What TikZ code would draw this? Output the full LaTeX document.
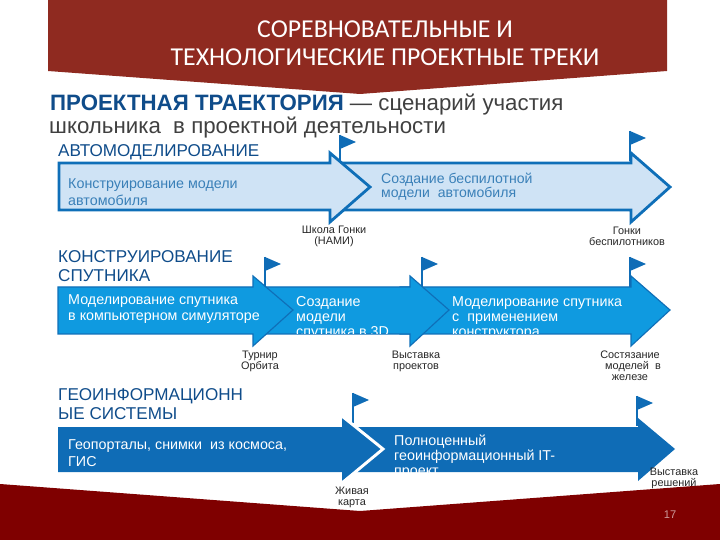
\documentclass[tikz,border=0pt]{standalone}
\usepackage{fontspec}
\setmainfont{Liberation Sans}
\newfontfamily\titlefont{Carlito}
\definecolor{headred}{HTML}{8F2A20}
\definecolor{footred}{HTML}{7F0000}
\definecolor{navy}{HTML}{0F4C8A}
\definecolor{lineblue}{HTML}{0F6FB8}
\definecolor{paleblue}{HTML}{CFE3F5}
\definecolor{palefont}{HTML}{3A80B8}
\definecolor{skyblue}{HTML}{0F9AE0}
\definecolor{deepblue}{HTML}{0F6CB6}
\definecolor{flagblue}{HTML}{0F6CB6}
\tikzset{
    track/.style={anchor=north west,align=left,text=navy,font=\fontsize{14.6}{16.2}\selectfont,inner sep=0pt},
    intro/.style={anchor=west,inner sep=0pt,text=black!75,font=\fontsize{19}{21}\selectfont},
    stage/.style={anchor=north west,align=left,inner sep=0pt},
    event/.style={align=center,inner sep=0pt,text=black!85,font=\fontsize{9.3}{9.2}\selectfont},
}
\begin{document}
\begin{tikzpicture}[x=0.03cm,y=-0.03cm]

    \useasboundingbox (0,0) rectangle (720,540);

    \fill[headred] (48,0) -- (667,0) -- (667,71) -- (360,94) -- (48,71) -- cycle;
    \fill[footred] (0,484) -- (360,511) -- (720,484) -- (720,540) -- (0,540) -- cycle;

    % flags
    \foreach \x/\y in {340/135,630/131,265/257,422/257,630/257,353/393,637/396} {
        \fill[flagblue] (\x,\y) -- (\x+16,\y+7) -- (\x,\y+14) -- cycle;
        \draw[flagblue,line width=1.5pt] (\x,\y) -- (\x,\y+30);
    }

    % first track
    \draw[lineblue,fill=paleblue,line width=2.4pt,line join=miter] (340,163) -- (631,163) -- (631,153) -- (670,187) -- (631,222) -- (631,210) -- (340,210) -- cycle;
    \draw[lineblue,fill=paleblue,line width=2.4pt,line join=miter] (59,163) -- (330,163) -- (330,153) -- (370,187) -- (330,222) -- (330,210) -- (59,210) -- cycle;

    % second track
    \draw[lineblue,fill=skyblue,line width=1pt] (400,287) -- (631,287) -- (631,276) -- (670,310) -- (631,346) -- (631,334) -- (400,334) -- cycle;
    \draw[lineblue,fill=skyblue,line width=1pt] (265,287) -- (410,287) -- (410,276) -- (449,310) -- (410,346) -- (410,334) -- (265,334) -- cycle;
    \draw[lineblue,fill=skyblue,line width=1pt] (58,287) -- (253,287) -- (253,276) -- (293,310) -- (253,346) -- (253,334) -- (58,334) -- cycle;

    % third track
    \fill[deepblue] (345,427) -- (638,427) -- (638,418) -- (675,449) -- (638,481) -- (638,472) -- (345,472) -- cycle;
    \fill[deepblue] (58,427) -- (342,427) -- (342,418) -- (383,449) -- (342,481) -- (342,472) -- (58,472) -- cycle;
    \draw[white,line width=2.5pt] (342,416) -- (383,449) -- (342,483);

    \node (title) [align=center,text=white,inner sep=0pt,font=\titlefont\fontsize{22}{24}\selectfont] at (385,43) {СОРЕВНОВАТЕЛЬНЫЕ И\\ТЕХНОЛОГИЧЕСКИЕ ПРОЕКТНЫЕ ТРЕКИ};

    \node (introtop) [intro] at (50,105) {\textcolor{navy}{\textbf{ПРОЕКТНАЯ ТРАЕКТОРИЯ}} — сценарий участия};
    \node (introbot) [intro] at (49,128) {школьника\ \ в проектной деятельности};

    \node (trackauto) [track] at (58,144) {АВТОМОДЕЛИРОВАНИЕ};
    \node (tracksat) [track] at (58,250) {КОНСТРУИРОВАНИЕ\\СПУТНИКА};
    \node (trackgeo) [track] at (58,388) {ГЕОИНФОРМАЦИОНН\\ЫЕ СИСТЕМЫ};

    \node (autoa) [stage,text=palefont,font=\fontsize{12.2}{14.5}\selectfont] at (68,178) {Конструирование модели\\автомобиля};
    \node (autob) [stage,text=palefont,font=\fontsize{12}{12}\selectfont] at (381,173) {Создание беспилотной\\модели\ \ автомобиля};

    \node (sata) [stage,text=white,font=\fontsize{12.2}{13.6}\selectfont] at (68,294) {Моделирование спутника\\в компьютерном симуляторе};
    % the last lines are cut by the arrow edge
    \begin{scope}
        \clip (280,287) rectangle (640,334);
        \node (satb) [stage,text=white,font=\fontsize{12.2}{12.8}\selectfont] at (296,296) {Создание\\модели\\спутника в 3D};
        \node (satc) [stage,text=white,font=\fontsize{12.2}{12.8}\selectfont] at (452,296) {Моделирование спутника\\с\ \ применением\\конструктора};
    \end{scope}

    \node (geoa) [stage,text=white,font=\fontsize{12.2}{14.5}\selectfont] at (68,439) {Геопорталы, снимки\ \ из космоса,\\ГИС};
    \begin{scope}
        \clip (385,427) rectangle (640,472);
        \node (geob) [stage,text=white,font=\fontsize{12.2}{12.8}\selectfont] at (394,435) {Полноценный\\геоинформационный IT-\\проект};
    \end{scope}

    \node (eventa) [event] at (334,236) {Школа Гонки\\(НАМИ)};
    \node (eventb) [event] at (627,236) {Гонки\\беспилотников};
    \node (eventc) [event] at (260,361) {Турнир\\Орбита};
    \node (eventd) [event] at (416,361) {Выставка\\проектов};
    \node (evente) [event] at (630,366) {Состязание\\\ \ моделей\ \ в\\железе};
    \node (eventf) [event] at (352,497) {Живая\\карта};
    \node (eventg) [event] at (674,478) {Выставка\\решений};

    \node (pagenum) [inner sep=0pt,text=white!60!footred,font=\fontsize{9.5}{10}\selectfont] at (670,515) {17};

\end{tikzpicture}
\end{document}
